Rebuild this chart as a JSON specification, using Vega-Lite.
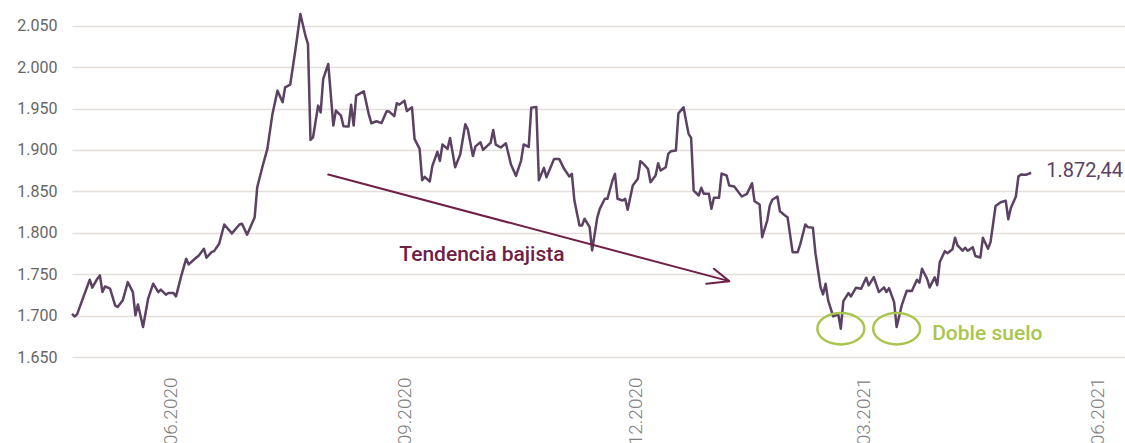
{
  "$schema": "https://vega.github.io/schema/vega-lite/v6.json",
  "width": 1053,
  "height": 352,
  "autosize": {"type": "none"},
  "padding": {"left": 72, "top": 5, "right": 0, "bottom": 86},
  "background": "white",
  "config": {"view": {"stroke": null}, "font": "Roboto"},
  "datasets": {
    "oro": [
      {"fecha":"2020-05-08","precio":1702},{"fecha":"2020-05-09","precio":1699},{"fecha":"2020-05-10","precio":1701.5},{"fecha":"2020-05-12","precio":1718.4},
      {"fecha":"2020-05-15","precio":1743.3},{"fecha":"2020-05-16","precio":1733.7},{"fecha":"2020-05-18","precio":1744.5},{"fecha":"2020-05-19","precio":1748.5},
      {"fecha":"2020-05-20","precio":1728.4},{"fecha":"2020-05-21","precio":1735.2},{"fecha":"2020-05-23","precio":1732.5},{"fecha":"2020-05-25","precio":1712.3},
      {"fecha":"2020-05-26","precio":1710.3},{"fecha":"2020-05-28","precio":1718.4},{"fecha":"2020-05-30","precio":1740.4},{"fecha":"2020-06-01","precio":1728.4},
      {"fecha":"2020-06-02","precio":1700.3},{"fecha":"2020-06-03","precio":1713.5},{"fecha":"2020-06-05","precio":1686.2},{"fecha":"2020-06-07","precio":1720.4},
      {"fecha":"2020-06-09","precio":1738.5},{"fecha":"2020-06-11","precio":1728.4},{"fecha":"2020-06-12","precio":1731.3},{"fecha":"2020-06-14","precio":1725.2},
      {"fecha":"2020-06-15","precio":1727.2},{"fecha":"2020-06-17","precio":1727.2},{"fecha":"2020-06-18","precio":1723.2},{"fecha":"2020-06-20","precio":1747.3},
      {"fecha":"2020-06-22","precio":1768.7},{"fecha":"2020-06-23","precio":1761.8},{"fecha":"2020-06-25","precio":1767.4},{"fecha":"2020-06-27","precio":1772.6},
      {"fecha":"2020-06-29","precio":1780.7},{"fecha":"2020-06-30","precio":1769.9},{"fecha":"2020-07-02","precio":1776.6},{"fecha":"2020-07-03","precio":1777.8},
      {"fecha":"2020-07-05","precio":1786.7},{"fecha":"2020-07-07","precio":1810},{"fecha":"2020-07-10","precio":1799.2},{"fecha":"2020-07-13","precio":1810},
      {"fecha":"2020-07-14","precio":1810.9},{"fecha":"2020-07-16","precio":1797.7},{"fecha":"2020-07-19","precio":1818.8},{"fecha":"2020-07-20","precio":1855},
      {"fecha":"2020-07-22","precio":1879.1},{"fecha":"2020-07-24","precio":1901.3},{"fecha":"2020-07-26","precio":1943.5},{"fecha":"2020-07-28","precio":1971.6},
      {"fecha":"2020-07-30","precio":1957.5},{"fecha":"2020-07-31","precio":1975.6},{"fecha":"2020-08-02","precio":1978.8},{"fecha":"2020-08-04","precio":2019.8},
      {"fecha":"2020-08-06","precio":2064.1},{"fecha":"2020-08-08","precio":2037.9},{"fecha":"2020-08-09","precio":2027.9},{"fecha":"2020-08-10","precio":1912.1},
      {"fecha":"2020-08-11","precio":1915.3},{"fecha":"2020-08-13","precio":1953.5},{"fecha":"2020-08-14","precio":1945.4},{"fecha":"2020-08-15","precio":1985.7},
      {"fecha":"2020-08-17","precio":2003.8},{"fecha":"2020-08-19","precio":1929.4},{"fecha":"2020-08-20","precio":1947.5},{"fecha":"2020-08-22","precio":1941.4},
      {"fecha":"2020-08-23","precio":1928.5},{"fecha":"2020-08-25","precio":1928.2},{"fecha":"2020-08-26","precio":1954.7},{"fecha":"2020-08-27","precio":1929.4},
      {"fecha":"2020-08-28","precio":1965.6},{"fecha":"2020-08-31","precio":1970.7},{"fecha":"2020-09-02","precio":1942.6},{"fecha":"2020-09-03","precio":1932.2},
      {"fecha":"2020-09-05","precio":1934.6},{"fecha":"2020-09-07","precio":1932.4},{"fecha":"2020-09-09","precio":1946.6},{"fecha":"2020-09-10","precio":1946.3},
      {"fecha":"2020-09-12","precio":1940.8},{"fecha":"2020-09-13","precio":1956.5},{"fecha":"2020-09-14","precio":1954.7},{"fecha":"2020-09-16","precio":1959.5},
      {"fecha":"2020-09-17","precio":1946.9},{"fecha":"2020-09-19","precio":1951.5},{"fecha":"2020-09-20","precio":1913.3},{"fecha":"2020-09-22","precio":1901.3},
      {"fecha":"2020-09-23","precio":1863.4},{"fecha":"2020-09-24","precio":1867.5},{"fecha":"2020-09-26","precio":1861.9},{"fecha":"2020-09-27","precio":1880.5},
      {"fecha":"2020-09-29","precio":1897.8},{"fecha":"2020-09-30","precio":1886.8},{"fecha":"2020-10-01","precio":1906.5},{"fecha":"2020-10-03","precio":1901.3},
      {"fecha":"2020-10-04","precio":1914.5},{"fecha":"2020-10-06","precio":1879.1},{"fecha":"2020-10-08","precio":1894.4},{"fecha":"2020-10-10","precio":1931},
      {"fecha":"2020-10-11","precio":1924.8},{"fecha":"2020-10-13","precio":1892.6},{"fecha":"2020-10-14","precio":1904.3},{"fecha":"2020-10-16","precio":1909.2},
      {"fecha":"2020-10-17","precio":1900.1},{"fecha":"2020-10-19","precio":1905.9},{"fecha":"2020-10-20","precio":1908.6},{"fecha":"2020-10-21","precio":1924.2},
      {"fecha":"2020-10-22","precio":1906.5},{"fecha":"2020-10-24","precio":1902.9},{"fecha":"2020-10-26","precio":1908},{"fecha":"2020-10-28","precio":1882.4},
      {"fecha":"2020-10-30","precio":1868.7},{"fecha":"2020-11-01","precio":1887.2},{"fecha":"2020-11-02","precio":1906.7},{"fecha":"2020-11-04","precio":1903.7},
      {"fecha":"2020-11-05","precio":1951.1},{"fecha":"2020-11-07","precio":1951.9},{"fecha":"2020-11-08","precio":1863.4},{"fecha":"2020-11-10","precio":1878.4},
      {"fecha":"2020-11-11","precio":1867},{"fecha":"2020-11-14","precio":1889.2},{"fecha":"2020-11-16","precio":1889.2},{"fecha":"2020-11-18","precio":1876.9},
      {"fecha":"2020-11-20","precio":1867.9},{"fecha":"2020-11-21","precio":1871.1},{"fecha":"2020-11-22","precio":1838.9},{"fecha":"2020-11-24","precio":1808.8},
      {"fecha":"2020-11-25","precio":1808.8},{"fecha":"2020-11-26","precio":1816.9},{"fecha":"2020-11-28","precio":1806.8},{"fecha":"2020-11-29","precio":1778.7},
      {"fecha":"2020-12-01","precio":1818.1},{"fecha":"2020-12-02","precio":1828.9},{"fecha":"2020-12-04","precio":1841},{"fecha":"2020-12-05","precio":1841},
      {"fecha":"2020-12-07","precio":1863.1},{"fecha":"2020-12-08","precio":1871.1},{"fecha":"2020-12-09","precio":1841},{"fecha":"2020-12-11","precio":1838.9},
      {"fecha":"2020-12-12","precio":1841},{"fecha":"2020-12-13","precio":1827.7},{"fecha":"2020-12-15","precio":1857},{"fecha":"2020-12-17","precio":1865.1},
      {"fecha":"2020-12-18","precio":1886.3},{"fecha":"2020-12-19","precio":1883.9},{"fecha":"2020-12-21","precio":1877.2},{"fecha":"2020-12-22","precio":1861},
      {"fecha":"2020-12-24","precio":1869.1},{"fecha":"2020-12-25","precio":1883.9},{"fecha":"2020-12-26","precio":1875.1},{"fecha":"2020-12-28","precio":1879.1},
      {"fecha":"2020-12-29","precio":1895.3},{"fecha":"2020-12-30","precio":1898.4},{"fecha":"2021-01-01","precio":1899.2},{"fecha":"2021-01-02","precio":1944.2},
      {"fecha":"2021-01-04","precio":1951.5},{"fecha":"2021-01-06","precio":1919.4},{"fecha":"2021-01-07","precio":1914.5},{"fecha":"2021-01-08","precio":1851},
      {"fecha":"2021-01-10","precio":1845},{"fecha":"2021-01-11","precio":1854.3},{"fecha":"2021-01-12","precio":1847},{"fecha":"2021-01-14","precio":1847},
      {"fecha":"2021-01-15","precio":1828.9},{"fecha":"2021-01-16","precio":1842.2},{"fecha":"2021-01-18","precio":1842.2},{"fecha":"2021-01-19","precio":1871.5},
      {"fecha":"2021-01-21","precio":1869.1},{"fecha":"2021-01-22","precio":1857},{"fecha":"2021-01-24","precio":1855.8},{"fecha":"2021-01-26","precio":1847.8},
      {"fecha":"2021-01-27","precio":1843.8},{"fecha":"2021-01-29","precio":1847},{"fecha":"2021-01-31","precio":1859.8},{"fecha":"2021-02-01","precio":1838.1},
      {"fecha":"2021-02-03","precio":1834.1},{"fecha":"2021-02-04","precio":1794.7},{"fecha":"2021-02-06","precio":1814.8},{"fecha":"2021-02-07","precio":1832.9},
      {"fecha":"2021-02-08","precio":1839.8},{"fecha":"2021-02-10","precio":1843.8},{"fecha":"2021-02-11","precio":1826},{"fecha":"2021-02-13","precio":1820.9},
      {"fecha":"2021-02-14","precio":1818.8},{"fecha":"2021-02-16","precio":1776.6},{"fecha":"2021-02-18","precio":1776.6},{"fecha":"2021-02-19","precio":1785.9},
      {"fecha":"2021-02-21","precio":1810},{"fecha":"2021-02-22","precio":1806.8},{"fecha":"2021-02-24","precio":1806},{"fecha":"2021-02-25","precio":1775.4},
      {"fecha":"2021-02-27","precio":1734.4},{"fecha":"2021-02-28","precio":1725.6},{"fecha":"2021-03-01","precio":1738.5},{"fecha":"2021-03-02","precio":1718.4},
      {"fecha":"2021-03-04","precio":1699.1},{"fecha":"2021-03-06","precio":1701.5},{"fecha":"2021-03-07","precio":1684.2},{"fecha":"2021-03-08","precio":1717.5},
      {"fecha":"2021-03-10","precio":1727.2},{"fecha":"2021-03-11","precio":1723.2},{"fecha":"2021-03-13","precio":1733.7},{"fecha":"2021-03-15","precio":1732.5},
      {"fecha":"2021-03-17","precio":1745.7},{"fecha":"2021-03-18","precio":1736.5},{"fecha":"2021-03-20","precio":1746.5},{"fecha":"2021-03-22","precio":1728.4},
      {"fecha":"2021-03-24","precio":1734},{"fecha":"2021-03-25","precio":1728.4},{"fecha":"2021-03-26","precio":1733.1},{"fecha":"2021-03-28","precio":1716.3},
      {"fecha":"2021-03-29","precio":1686.2},{"fecha":"2021-03-31","precio":1712.3},{"fecha":"2021-04-02","precio":1730.1},{"fecha":"2021-04-04","precio":1729.6},
      {"fecha":"2021-04-06","precio":1743.3},{"fecha":"2021-04-07","precio":1739.8},{"fecha":"2021-04-08","precio":1756.6},{"fecha":"2021-04-10","precio":1744.5},
      {"fecha":"2021-04-11","precio":1734},{"fecha":"2021-04-13","precio":1746.1},{"fecha":"2021-04-14","precio":1736.8},{"fecha":"2021-04-15","precio":1764.6},
      {"fecha":"2021-04-17","precio":1777.8},{"fecha":"2021-04-18","precio":1775.4},{"fecha":"2021-04-20","precio":1780.1},{"fecha":"2021-04-21","precio":1794},
      {"fecha":"2021-04-22","precio":1784.7},{"fecha":"2021-04-24","precio":1778.3},{"fecha":"2021-04-25","precio":1781.9},{"fecha":"2021-04-26","precio":1778.3},
      {"fecha":"2021-04-28","precio":1782.6},{"fecha":"2021-04-29","precio":1772},{"fecha":"2021-05-01","precio":1770.2},{"fecha":"2021-05-02","precio":1794},
      {"fecha":"2021-05-04","precio":1780.7},{"fecha":"2021-05-05","precio":1788.7},{"fecha":"2021-05-07","precio":1832.3},{"fecha":"2021-05-09","precio":1836.9},
      {"fecha":"2021-05-11","precio":1838.6},{"fecha":"2021-05-12","precio":1816.3},{"fecha":"2021-05-13","precio":1829.9},{"fecha":"2021-05-15","precio":1843.8},
      {"fecha":"2021-05-16","precio":1867.9},{"fecha":"2021-05-17","precio":1870.3},{"fecha":"2021-05-19","precio":1869.9},{"fecha":"2021-05-21","precio":1872.44}
    ],
    "flecha": [
      {"fecha":"2020-08-17","precio":1870.3,"fecha2":"2021-01-22","precio2":1741.6},
      {"fecha":"2021-01-22","precio":1741.6,"fecha2":"2021-01-13","precio2":1738.5},
      {"fecha":"2021-01-22","precio":1741.6,"fecha2":"2021-01-16","precio2":1756.6}
    ],
    "suelos": [
      {"fecha":"2021-03-07","precio":1684.2},
      {"fecha":"2021-03-29","precio":1684.2}
    ]
  },
  "encoding": {
    "x": {
      "field": "fecha", "type": "temporal",
      "scale": {"domain": [{"year":2020,"month":5,"date":8,"utc":true},{"year":2021,"month":6,"date":27,"utc":true}]},
      "axis": {
        "title": null,
        "values": [{"year":2020,"month":6,"date":16,"utc":true},{"year":2020,"month":9,"date":16,"utc":true},{"year":2020,"month":12,"date":16,"utc":true},{"year":2021,"month":3,"date":16,"utc":true},{"year":2021,"month":6,"date":16,"utc":true}],
        "format": "%m.%Y",
        "labelAngle": 270,
        "ticks": false, "tickSize": 0, "domain": false, "grid": false,
        "labelPadding": 20, "labelFontSize": 19, "labelFont": "Roboto", "labelFontWeight": 300,
        "labelColor": "#808080", "labelOverlap": false, "labelFlush": false
      }
    },
    "y": {
      "field": "precio", "type": "quantitative",
      "scale": {"domain": [1650, 2075], "nice": false, "zero": false},
      "axis": {
        "title": null,
        "values": [1650,1700,1750,1800,1850,1900,1950,2000,2050],
        "labelExpr": "replace(format(datum.value, ',.0f'), ',', '.')",
        "ticks": false, "tickSize": 0, "domain": false,
        "grid": true, "gridColor": "#e4dfda", "gridWidth": 1.5,
        "labelPadding": 15, "labelFontSize": 16, "labelFont": "Roboto", "labelColor": "#666666"
      }
    }
  },
  "layer": [
    {
      "data": {"name": "oro"},
      "mark": {"type": "line", "color": "#5b4263", "strokeWidth": 2.5, "strokeJoin": "round"}
    },
    {
      "data": {"name": "flecha"},
      "mark": {"type": "rule", "color": "#6e2046", "strokeWidth": 2, "strokeCap": "round"},
      "encoding": {"x2": {"field": "fecha2"}, "y2": {"field": "precio2"}}
    },
    {
      "data": {"name": "suelos"},
      "mark": {"type": "point", "shape": "M-1,0C-1,-0.37,-0.552,-0.67,0,-0.67C0.552,-0.67,1,-0.37,1,0C1,0.37,0.552,0.67,0,0.67C-0.552,0.67,-1,0.37,-1,0Z", "size": 2200, "filled": false, "stroke": "#a9c54d", "strokeWidth": 2.5, "opacity": 1}
    },
    {
      "data": {"values": [{"fecha":"2020-09-14","precio":1765.4,"etiqueta":"Tendencia bajista"}]},
      "mark": {"type": "text", "align": "left", "baseline": "alphabetic", "font": "Roboto", "fontSize": 21, "fontWeight": 500, "color": "#6e2046"},
      "encoding": {"text": {"field": "etiqueta"}}
    },
    {
      "data": {"values": [{"fecha":"2021-04-12","precio":1670.1,"etiqueta":"Doble suelo"}]},
      "mark": {"type": "text", "align": "left", "baseline": "alphabetic", "font": "Roboto", "fontSize": 21, "fontWeight": 500, "color": "#a9c54d"},
      "encoding": {"text": {"field": "etiqueta"}}
    },
    {
      "data": {"values": [{"fecha":"2021-05-27","precio":1867,"etiqueta":"1.872,44"}]},
      "mark": {"type": "text", "align": "left", "baseline": "alphabetic", "font": "Roboto", "fontSize": 20, "fontWeight": 400, "color": "#5b4263"},
      "encoding": {"text": {"field": "etiqueta"}}
    }
  ]
}
